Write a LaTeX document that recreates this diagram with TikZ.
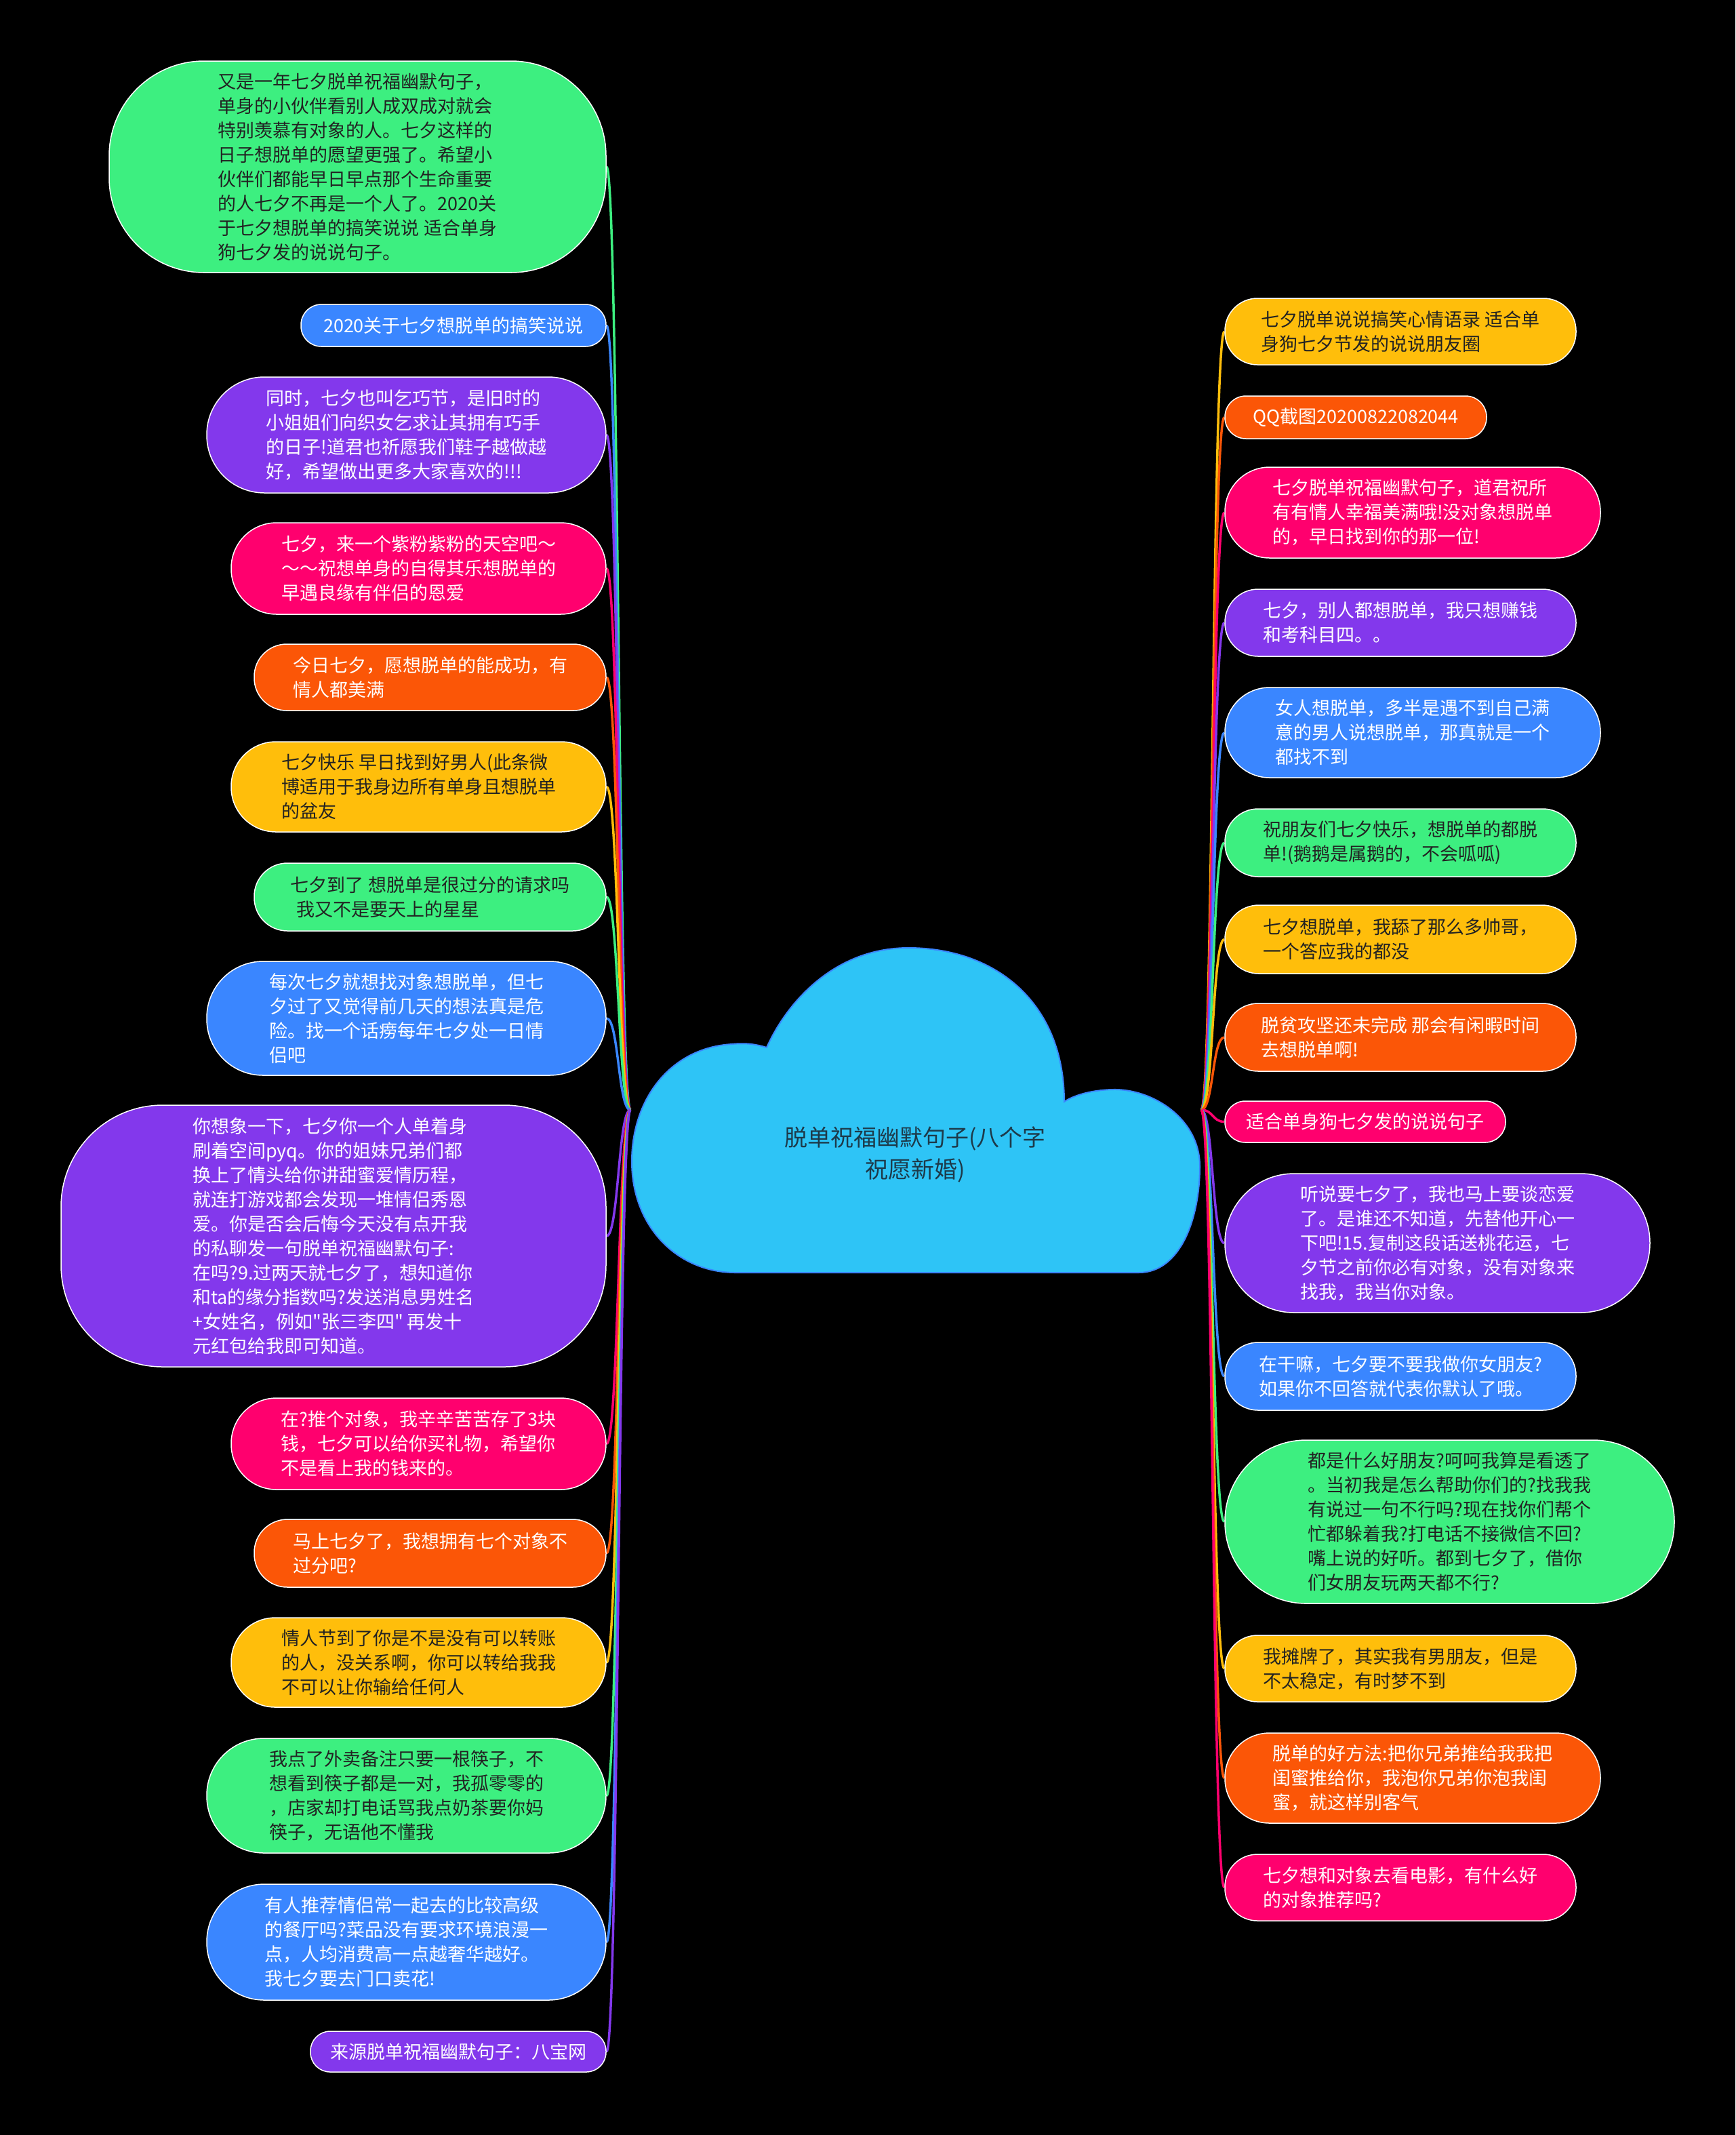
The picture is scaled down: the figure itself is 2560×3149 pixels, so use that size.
\documentclass[tikz,border=0pt]{standalone}
\usepackage{fontspec}
\setmainfont{Noto Sans CJK SC}[Ligatures=TeXOff]
\usetikzlibrary{calc}
\definecolor{cgreen}{HTML}{3DEF80}
\definecolor{cblue}{HTML}{3A86FF}
\definecolor{cpurple}{HTML}{8338EC}
\definecolor{cpink}{HTML}{FF006E}
\definecolor{corange}{HTML}{FB5607}
\definecolor{cyellow}{HTML}{FFBE0B}
\definecolor{cdark}{HTML}{222222}
\definecolor{ccloud}{HTML}{2EC4F6}
\definecolor{ccloudtext}{HTML}{1D3A4A}
\pgfdeclarelayer{back}
\pgfdeclarelayer{lines}
\pgfsetlayers{back,lines,main}
\newcommand\lk[2]{\draw[conn,#2] (lroot) .. controls ($(lroot)+(-18,0)$) and ($(#1.east)+(18,0)$) .. (#1.east);}
\newcommand\rk[2]{\draw[conn,#2] (rroot) .. controls ($(rroot)+(18,0)$) and ($(#1.west)+(-18,0)$) .. (#1.west);}
\begin{document}
\begin{tikzpicture}[x=1pt,y=-1pt,
  bub/.style={draw=white, line width=1.5pt, inner sep=0pt, align=left, font=\fontsize{27pt}{36pt}\selectfont},
  dk/.style={text=cdark}, wt/.style={text=white},
  conn/.style={line width=3.5pt}]
\begin{pgfonlayer}{back}
\fill[black] (0,0) rectangle (2560,3149);
\end{pgfonlayer}
\useasboundingbox (0,0) rectangle (2560,3149);
% cloud
\draw[fill=ccloud, draw=cblue, line width=2pt]
  (1085,1877) -- (1680,1877)
  .. controls (1740,1877) and (1770,1800) .. (1770,1720)
  .. controls (1770,1650) and (1700,1605) .. (1640,1607)
  .. controls (1610,1608) and (1585,1615) .. (1570,1625)
  .. controls (1570,1480) and (1470,1398) .. (1340,1398)
  .. controls (1230,1398) and (1160,1480) .. (1131,1545)
  .. controls (1115,1540) and (1100,1538) .. (1080,1540)
  .. controls (990,1545) and (932,1620) .. (932,1713)
  .. controls (932,1810) and (1000,1877) .. (1085,1877) -- cycle;
\node[align=center, text=ccloudtext, font=\fontsize{34pt}{47pt}\selectfont] (root) at (1350,1703) {脱单祝福幽默句子(八个字\\祝愿新婚)};
\coordinate (lroot) at (930,1637);
\coordinate (rroot) at (1772,1637);
% left nodes
\node[bub, fill=cgreen, dk, minimum width=733pt, minimum height=312pt, rounded corners=140pt] (L1) at (527.5,246) {又是一年七夕脱单祝福幽默句子，\\单身的小伙伴看别人成双成对就会\\特别羡慕有对象的人。七夕这样的\\日子想脱单的愿望更强了。希望小\\伙伴们都能早日早点那个生命重要\\的人七夕不再是一个人了。2020关\\于七夕想脱单的搞笑说说 适合单身\\狗七夕发的说说句子。};
\node[bub, fill=cblue, wt, minimum width=450pt, minimum height=62pt, rounded corners=30pt] (L2) at (669,480) {2020关于七夕想脱单的搞笑说说};
\node[bub, fill=cpurple, wt, minimum width=589pt, minimum height=171pt, rounded corners=85pt] (L3) at (599.5,641.5) {同时，七夕也叫乞巧节，是旧时的\\小姐姐们向织女乞求让其拥有巧手\\的日子!道君也祈愿我们鞋子越做越\\好，希望做出更多大家喜欢的!!!};
\node[bub, fill=cpink, wt, minimum width=553pt, minimum height=135pt, rounded corners=67pt] (L4) at (617.5,838.5) {七夕，来一个紫粉紫粉的天空吧～\\～～祝想单身的自得其乐想脱单的\\早遇良缘有伴侣的恩爱};
\node[bub, fill=corange, wt, minimum width=519pt, minimum height=98pt, rounded corners=48pt] (L5) at (634.5,999) {今日七夕，愿想脱单的能成功，有\\情人都美满};
\node[bub, fill=cyellow, dk, minimum width=553pt, minimum height=133pt, rounded corners=66pt] (L6) at (617.5,1160.5) {七夕快乐 早日找到好男人(此条微\\博适用于我身边所有单身且想脱单\\的盆友};
\node[bub, fill=cgreen, dk, minimum width=519pt, minimum height=100pt, rounded corners=49pt] (L7) at (634.5,1323) {七夕到了 想脱单是很过分的请求吗\\\hspace*{0.3em}我又不是要天上的星星};
\node[bub, fill=cblue, wt, minimum width=589pt, minimum height=168pt, rounded corners=83pt] (L8) at (599.5,1502) {每次七夕就想找对象想脱单，但七\\夕过了又觉得前几天的想法真是危\\险。找一个话痨每年七夕处一日情\\侣吧};
\node[bub, fill=cpurple, wt, minimum width=804pt, minimum height=386pt, rounded corners=150pt] (L9) at (492,1823) {你想象一下，七夕你一个人单着身\\刷着空间pyq。你的姐妹兄弟们都\\换上了情头给你讲甜蜜爱情历程，\\就连打游戏都会发现一堆情侣秀恩\\爱。你是否会后悔今天没有点开我\\的私聊发一句脱单祝福幽默句子:\\在吗?9.过两天就七夕了，想知道你\\和ta的缘分指数吗?发送消息男姓名\\+女姓名，例如"张三李四" 再发十\\元红包给我即可知道。};
\node[bub, fill=cpink, wt, minimum width=553pt, minimum height=135pt, rounded corners=67pt] (L10) at (617.5,2129.5) {在?推个对象，我辛辛苦苦存了3块\\钱，七夕可以给你买礼物，希望你\\不是看上我的钱来的。};
\node[bub, fill=corange, wt, minimum width=519pt, minimum height=100pt, rounded corners=49pt] (L11) at (634.5,2291) {马上七夕了，我想拥有七个对象不\\过分吧?};
\node[bub, fill=cyellow, dk, minimum width=553pt, minimum height=132pt, rounded corners=65pt] (L12) at (617.5,2452) {情人节到了你是不是没有可以转账\\的人，没关系啊，你可以转给我我\\不可以让你输给任何人};
\node[bub, fill=cgreen, dk, minimum width=589pt, minimum height=169pt, rounded corners=84pt] (L13) at (599.5,2648.5) {我点了外卖备注只要一根筷子，不\\想看到筷子都是一对，我孤零零的\\，店家却打电话骂我点奶茶要你妈\\筷子，无语他不懂我};
\node[bub, fill=cblue, wt, minimum width=589pt, minimum height=171pt, rounded corners=85pt] (L14) at (599.5,2864.5) {有人推荐情侣常一起去的比较高级\\的餐厅吗?菜品没有要求环境浪漫一\\点，人均消费高一点越奢华越好。\\我七夕要去门口卖花!};
\node[bub, fill=cpurple, wt, minimum width=436pt, minimum height=60pt, rounded corners=29pt] (L15) at (676,3026) {来源脱单祝福幽默句子：八宝网};
% right nodes
\node[bub, fill=cyellow, dk, minimum width=518pt, minimum height=98pt, rounded corners=48pt] (R1) at (2066,489) {七夕脱单说说搞笑心情语录 适合单\\身狗七夕节发的说说朋友圈};
\node[bub, fill=corange, wt, minimum width=386pt, minimum height=63pt, rounded corners=31pt] (R2) at (2000,615.5) {QQ截图20200822082044};
\node[bub, fill=cpink, wt, minimum width=554pt, minimum height=134pt, rounded corners=66pt] (R3) at (2084,756) {七夕脱单祝福幽默句子，道君祝所\\有有情人幸福美满哦!没对象想脱单\\的，早日找到你的那一位!};
\node[bub, fill=cpurple, wt, minimum width=518pt, minimum height=99pt, rounded corners=49pt] (R4) at (2066,918.5) {七夕，别人都想脱单，我只想赚钱\\和考科目四。。};
\node[bub, fill=cblue, wt, minimum width=554pt, minimum height=133pt, rounded corners=66pt] (R5) at (2084,1080.5) {女人想脱单，多半是遇不到自己满\\意的男人说想脱单，那真就是一个\\都找不到};
\node[bub, fill=cgreen, dk, minimum width=518pt, minimum height=100pt, rounded corners=49pt] (R6) at (2066,1243) {祝朋友们七夕快乐，想脱单的都脱\\单!(鹅鹅是属鹅的，不会呱呱)};
\node[bub, fill=cyellow, dk, minimum width=518pt, minimum height=101pt, rounded corners=50pt] (R7) at (2066,1385.5) {七夕想脱单，我舔了那么多帅哥，\\一个答应我的都没};
\node[bub, fill=corange, wt, minimum width=518pt, minimum height=100pt, rounded corners=49pt] (R8) at (2066,1530) {脱贫攻坚还未完成 那会有闲暇时间\\去想脱单啊!};
\node[bub, fill=cpink, wt, minimum width=414pt, minimum height=61pt, rounded corners=30pt] (R9) at (2014,1654.5) {适合单身狗七夕发的说说句子};
\node[bub, fill=cpurple, wt, minimum width=627pt, minimum height=205pt, rounded corners=102pt] (R10) at (2120.5,1833.5) {听说要七夕了，我也马上要谈恋爱\\了。是谁还不知道，先替他开心一\\下吧!15.复制这段话送桃花运，七\\夕节之前你必有对象，没有对象来\\找我，我当你对象。};
\node[bub, fill=cblue, wt, minimum width=518pt, minimum height=100pt, rounded corners=49pt] (R11) at (2066,2030) {在干嘛，七夕要不要我做你女朋友?\\如果你不回答就代表你默认了哦。};
\node[bub, fill=cgreen, dk, minimum width=663pt, minimum height=241pt, rounded corners=120pt] (R12) at (2138.5,2244.5) {都是什么好朋友?呵呵我算是看透了\\。当初我是怎么帮助你们的?找我我\\有说过一句不行吗?现在找你们帮个\\忙都躲着我?打电话不接微信不回?\\嘴上说的好听。都到七夕了，借你\\们女朋友玩两天都不行?};
\node[bub, fill=cyellow, dk, minimum width=518pt, minimum height=98pt, rounded corners=48pt] (R13) at (2066,2461) {我摊牌了，其实我有男朋友，但是\\不太稳定，有时梦不到};
\node[bub, fill=corange, wt, minimum width=554pt, minimum height=133pt, rounded corners=66pt] (R14) at (2084,2622.5) {脱单的好方法:把你兄弟推给我我把\\闺蜜推给你，我泡你兄弟你泡我闺\\蜜，就这样别客气};
\node[bub, fill=cpink, wt, minimum width=518pt, minimum height=98pt, rounded corners=48pt] (R15) at (2066,2784) {七夕想和对象去看电影，有什么好\\的对象推荐吗?};
% connectors
\begin{pgfonlayer}{lines}
\lk{L1}{cgreen}\lk{L2}{cblue}\lk{L3}{cpurple}\lk{L4}{cpink}\lk{L5}{corange}
\lk{L6}{cyellow}\lk{L7}{cgreen}\lk{L8}{cblue}\lk{L9}{cpurple}\lk{L10}{cpink}
\lk{L11}{corange}\lk{L12}{cyellow}\lk{L13}{cgreen}\lk{L14}{cblue}\lk{L15}{cpurple}
\rk{R1}{cyellow}\rk{R2}{corange}\rk{R3}{cpink}\rk{R4}{cpurple}\rk{R5}{cblue}
\rk{R6}{cgreen}\rk{R7}{cyellow}\rk{R8}{corange}\rk{R9}{cpink}\rk{R10}{cpurple}
\rk{R11}{cblue}\rk{R12}{cgreen}\rk{R13}{cyellow}\rk{R14}{corange}\rk{R15}{cpink}
\end{pgfonlayer}
\end{tikzpicture}
\end{document}
